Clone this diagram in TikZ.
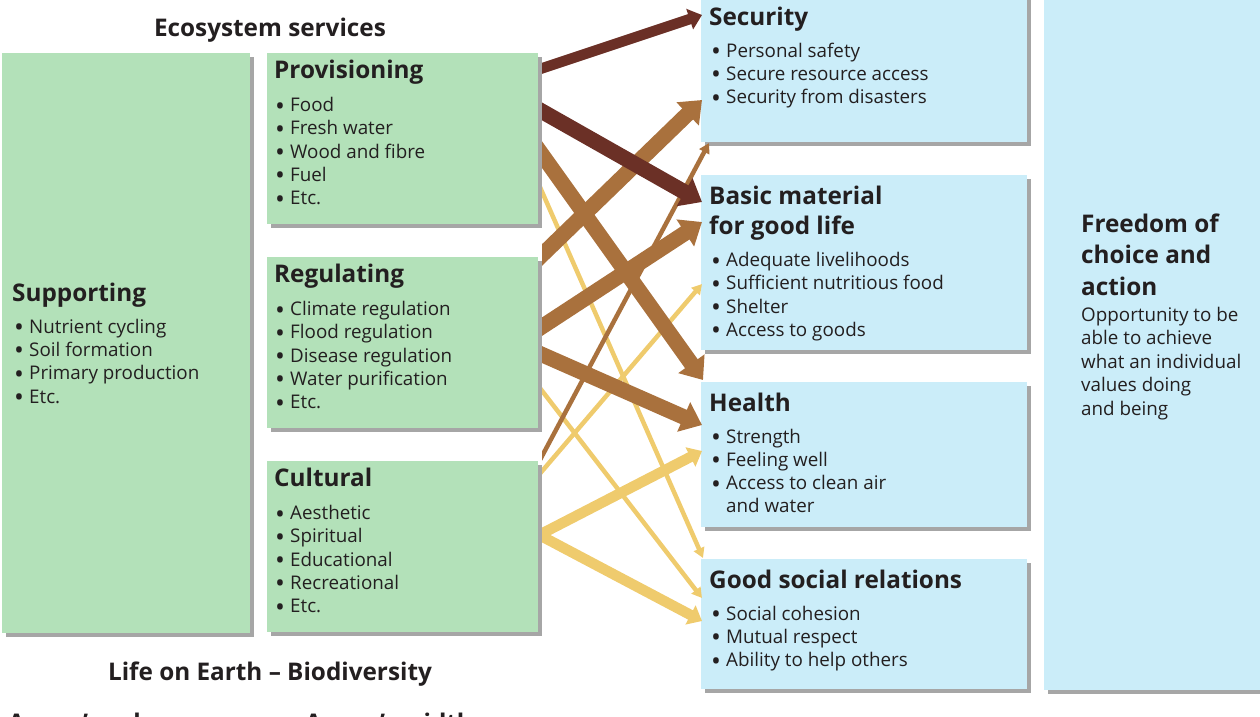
\documentclass[tikz,border=0pt]{standalone}
\usepackage{fontspec}
\setmainfont{Open Sans}
\usetikzlibrary{arrows.meta}
\definecolor{servicegreen}{HTML}{B3E1B9}
\definecolor{wellbeingblue}{HTML}{CBEDF9}
\definecolor{boxshadow}{HTML}{A6A6A6}
\definecolor{linkdark}{HTML}{6B3026}
\definecolor{linkmid}{HTML}{A9713D}
\definecolor{linkpale}{HTML}{EFCB6D}
\definecolor{inktext}{HTML}{231F20}
\newcommand{\headsize}{\fontsize{24.3}{31.5}\selectfont\bfseries}
\newcommand{\itemsize}{\fontsize{18.8}{23.3}\selectfont}
\newcommand{\bul}{\makebox[15pt][l]{\smash{\raisebox{-3.5pt}{\scalebox{1.4}{\textbullet}}}}}

\begin{document}
\begin{tikzpicture}[
  x=1pt,
  y=-1pt,
  box/.style={draw=none,inner sep=0pt,outer sep=0pt,anchor=north west},
  heading/.style={font=\headsize,text=inktext,inner sep=0pt,text height=18pt,text depth=5pt,anchor=base west},
  entry/.style={font=\itemsize,text=inktext,inner sep=0pt,text height=14pt,text depth=4pt,anchor=base west},
  caption/.style={font=\headsize,text=inktext,inner sep=0pt,anchor=base},
  strong/.style={line width=15.5pt,-{Triangle[length=20pt,width=31pt]}},
  medium/.style={line width=10.5pt,-{Triangle[length=13pt,width=21pt]}},
  weak/.style={line width=4.5pt,-{Triangle[length=10pt,width=11pt]}}
]
  \newcommand{\drawservicebox}[6]{%
    \fill[boxshadow] (#2+4,#3+4) rectangle ++(#4,#5);
    \node[box,fill=#6,minimum width=#4pt,minimum height=#5pt] (#1) at (#2,#3) {};
  }

  \path[use as bounding box] (0,0) rectangle (1260,716);
  \clip (0,0) rectangle (1260,716);

  % Ecosystem services (green) and well-being (blue) boxes.
  \drawservicebox{supp}{2}{53}{248}{580}{servicegreen}
  \drawservicebox{prov}{267}{53}{271}{171}{servicegreen}
  \drawservicebox{reg}{267}{257}{271}{171}{servicegreen}
  \drawservicebox{cult}{267}{461}{271}{171}{servicegreen}
  \drawservicebox{sec}{701}{-4}{326}{146}{wellbeingblue}
  \drawservicebox{basic}{701}{175}{326}{175}{wellbeingblue}
  \drawservicebox{health}{701}{382}{326}{145}{wellbeingblue}
  \drawservicebox{social}{701}{559}{326}{130}{wellbeingblue}
  \drawservicebox{free}{1044}{-4}{230}{694}{wellbeingblue}

  \node[caption] (es-title) at (270,36) {Ecosystem services};
  \node[caption] (life-title) at (270,680) {Life on Earth – Biodiversity};
  \node[heading] (colour-key) at (8,731) {Arrow’s colour};
  \node[heading] (width-key) at (305,731) {Arrow’s width};

  % Service lists.
  \node[heading] (supp-title) at ([shift={(10,248)}]supp.north west) {Supporting};
  \foreach \lbl [count=\i] in {Nutrient cycling,Soil formation,Primary production,Etc.}
    \node[entry] (supp-\i) at ([shift={(12,256.8+23.3*\i)}]supp.north west) {\bul\lbl};

  \node[heading] (prov-title) at ([shift={(7,25.5)}]prov.north west) {Provisioning};
  \foreach \lbl [count=\i] in {Food,Fresh water,Wood and fibre,Fuel,Etc.}
    \node[entry] (prov-\i) at ([shift={(8,35.5+23.2*\i)}]prov.north west) {\bul\lbl};

  \node[heading] (reg-title) at ([shift={(7,25.5)}]reg.north west) {Regulating};
  \foreach \lbl [count=\i] in {Climate regulation,Flood regulation,Disease regulation,Water purification,Etc.}
    \node[entry] (reg-\i) at ([shift={(8,35.5+23.2*\i)}]reg.north west) {\bul\lbl};

  \node[heading] (cult-title) at ([shift={(7,25.5)}]cult.north west) {Cultural};
  \foreach \lbl [count=\i] in {Aesthetic,Spiritual,Educational,Recreational,Etc.}
    \node[entry] (cult-\i) at ([shift={(8,35.5+23.2*\i)}]cult.north west) {\bul\lbl};

  % Constituents of well-being.
  \node[heading] (sec-title) at ([shift={(8,29)}]sec.north west) {Security};
  \foreach \lbl [count=\i] in {Personal safety,Secure resource access,Security from disasters}
    \node[entry] (sec-\i) at ([shift={(10,38+23.2*\i)}]sec.north west) {\bul\lbl};

  \node[heading] (basic-title) at ([shift={(8,29)}]basic.north west) {Basic material};
  \node[heading] (basic-title2) at ([shift={(8,59)}]basic.north west) {for good life};
  \foreach \lbl [count=\i] in {Adequate livelihoods,Sufficient nutritious food,Shelter,Access to goods}
    \node[entry] (basic-\i) at ([shift={(10,68.5+23.2*\i)}]basic.north west) {\bul\lbl};

  \node[heading] (health-title) at ([shift={(8,29)}]health.north west) {Health};
  \foreach \lbl [count=\i] in {Strength,Feeling well,Access to clean air}
    \node[entry] (health-\i) at ([shift={(10,38+23.2*\i)}]health.north west) {\bul\lbl};
  \node[entry] (health-4) at ([shift={(25,130.8)}]health.north west) {and water};

  \node[heading] (social-title) at ([shift={(8,29)}]social.north west) {Good social relations};
  \foreach \lbl [count=\i] in {Social cohesion,Mutual respect,Ability to help others}
    \node[entry] (social-\i) at ([shift={(10,38+23.2*\i)}]social.north west) {\bul\lbl};

  \foreach \lbl [count=\i] in {Freedom of,choice and,action}
    \node[heading] (free-title-\i) at ([shift={(37,204.5+31.5*\i)}]free.north west) {\lbl};
  \foreach \lbl [count=\i] in {Opportunity to be,able to achieve,what an individual,values doing,and being}
    \node[entry] (free-\i) at ([shift={(37,301.5+23.5*\i)}]free.north west) {\lbl};

  % Links, cut off square at the service boxes.
  \begin{scope}
    \clip (542,-10) rectangle (1270,730);
    \draw[weak,linkpale] ([shift={(-8,111.4)}]prov.north east) -- ([shift={(2,-1)}]social.north west);
    \draw[weak,linkpale] ([shift={(-8,118.2)}]reg.north east) -- ([shift={(1,39)}]social.north west);
    \draw[weak,linkpale] ([shift={(-8,24.2)}]cult.north east) -- ([shift={(1,109)}]basic.north west);
    \draw[medium,linkpale] ([shift={(-8,78.7)}]cult.north east) -- ([shift={(1,69)}]health.north west);
    \draw[medium,linkpale] ([shift={(-8,69.1)}]cult.north east) -- ([shift={(1,62)}]social.north west);

    \draw[strong,linkmid] ([shift={(-8,84.8)}]prov.north east) -- ([shift={(2,-2)}]health.north west);
    \draw[strong,linkmid] ([shift={(-8,9.6)}]reg.north east) -- ([shift={(1,104)}]sec.north west);
    \draw[strong,linkmid] ([shift={(-8,77.5)}]reg.north east) -- ([shift={(1,47)}]basic.north west);
    \draw[strong,linkmid] ([shift={(-8,92.3)}]reg.north east) -- ([shift={(1,43)}]health.north west);
    \draw[weak,linkmid] ([shift={(-8,17.6)}]cult.north east) -- ([shift={(8,1)}]sec.south west);

    \draw[medium,linkdark] ([shift={(-8,19.3)}]prov.north east) -- ([shift={(1,19)}]sec.north west);
    \draw[strong,linkdark] ([shift={(-8,51.6)}]prov.north east) -- ([shift={(1,27)}]basic.north west);
  \end{scope}
\end{tikzpicture}
\end{document}
